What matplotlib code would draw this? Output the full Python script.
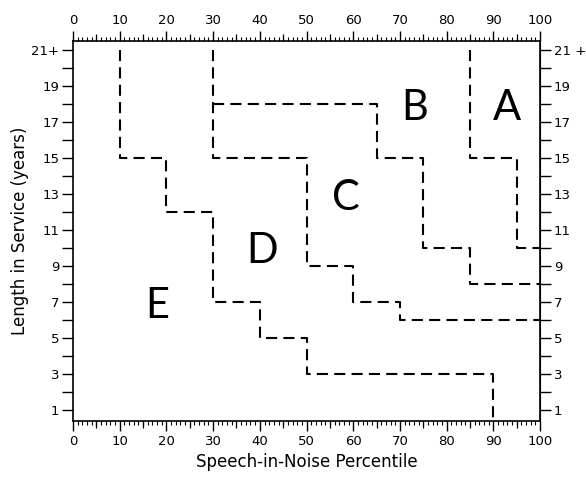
import matplotlib
matplotlib.use("Agg")
import matplotlib.pyplot as plt
import numpy as np

plt.rcParams["lines.scale_dashes"] = False

# step boundaries between the regions (percentile, years)
ed_x = [10, 10, 20, 20, 30, 30, 40, 40, 50, 50, 90, 90]
ed_y = [21, 15, 15, 12, 12, 7, 7, 5, 5, 3, 3, 0.4]
dc_x = [30, 30, 50, 50, 60, 60, 70, 70, 100]
dc_y = [21, 15, 15, 9, 9, 7, 7, 6, 6]
cb_x = [30, 65, 65, 75, 75, 85, 85, 100]
cb_y = [18, 18, 15, 15, 10, 10, 8, 8]
ba_x = [85, 85, 95, 95, 100]
ba_y = [21, 15, 15, 10, 10]

region_names = ["A", "B", "C", "D", "E"]
region_x = [93.0, 73.2, 58.4, 40.4, 18.0]
region_y = [17.8, 17.8, 12.8, 9.85, 6.8]

xticks = np.arange(0, 101, 10)
yticks = np.arange(1, 22, 2)
ylabels_left = [str(v) for v in yticks[:-1]] + ["21+"]
ylabels_right = [str(v) for v in yticks[:-1]] + ["21 +"]

fig = plt.figure(figsize=(5.86, 4.79), dpi=100)
ax = fig.add_axes([0.1246, 0.121, 0.797, 0.793])

for xs, ys in [(ed_x, ed_y), (dc_x, dc_y), (cb_x, cb_y), (ba_x, ba_y)]:
    ax.plot(xs, ys, color="black", lw=1.5, ls=(0, (8, 4.5)),
            solid_joinstyle="miter")

for name, x, y in zip(region_names, region_x, region_y):
    ax.text(x, y, name, ha="center", va="center", fontsize=30,
            family=["Lato", "DejaVu Sans"], fontweight="normal")

ax.set_xlim(0, 100)
ax.set_ylim(0.4, 21.5)

# x axis: major every 10, minor every 1, both top and bottom
ax.set_xticks(xticks)
ax.set_xticks(np.arange(0, 101, 1), minor=True)
ax.tick_params(axis="x", which="major", direction="out", length=7, width=1,
               top=True, labeltop=True, labelsize=9.5, pad=3)
ax.tick_params(axis="x", which="minor", direction="out", length=3, width=0.8,
               top=True)
for side in ["bottom", "top"]:
    sec = ax.secondary_xaxis(side)
    sec.set_xticks(np.arange(5, 100, 10))
    sec.tick_params(length=5, width=0.9, labelbottom=False, labeltop=False)
    sec.spines[side].set_visible(False)

# y axis: labelled odd years, unlabelled even years
ax.set_yticks(yticks)
ax.set_yticklabels(ylabels_left)
ax.set_yticks(np.arange(2, 21, 2), minor=True)
ax.tick_params(axis="y", which="both", direction="out", length=8, width=1,
               labelsize=9.5, pad=2)
secy = ax.secondary_yaxis("right")
secy.set_yticks(yticks)
secy.set_yticklabels(ylabels_right)
secy.set_yticks(np.arange(2, 21, 2), minor=True)
secy.tick_params(axis="y", which="both", direction="out", length=8, width=1,
                 labelsize=9.5, pad=2)

for sp in ax.spines.values():
    sp.set_linewidth(1.2)

ax.set_xlabel("Speech-in-Noise Percentile", fontsize=12)
ax.set_ylabel("Length in Service (years)", fontsize=12)
ax.xaxis.set_label_coords(0.5, -0.085)
ax.yaxis.set_label_coords(-0.095, 0.5)

fig.savefig("out.png", dpi=100)
